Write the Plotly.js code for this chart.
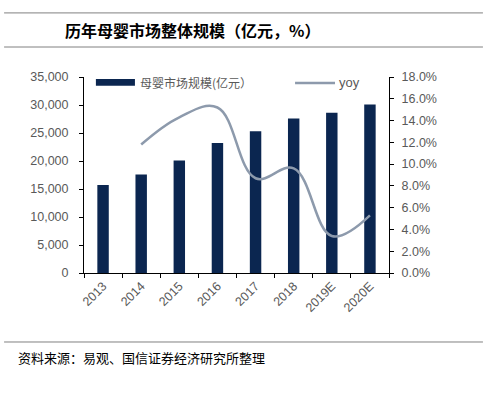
<!DOCTYPE html>
<html>
<head>
<meta charset="utf-8">
<script src="https://cdn.plot.ly/plotly-3.0.1.min.js"></script>
<style>html,body{margin:0;padding:0;background:#fff;}#chart{width:500px;height:394px;}</style>
</head>
<body>
<div id="chart"></div>
<script>
const years = ['2013','2014','2015','2016','2017','2018','2019E','2020E'];
const marketSize = [15700, 17600, 20100, 23200, 25300, 27600, 28600, 30100];
const yoyYears = ['2014','2015','2016','2017','2018','2019E','2020E'];
const yoyValues = [11.8, 14.3, 15.2, 8.7, 9.6, 3.4, 5.3];
const barName = '母婴市场规模(亿元）';
const lineName = 'yoy';
const titleText = '历年母婴市场整体规模（亿元，%）';
const sourceText = '资料来源：易观、国信证券经济研究所整理';

const navy = '#0B2650';
const lineGray = '#8D9AAC';
const tickGray = '#595959';
const cjk = '"Noto Sans CJK SC", sans-serif';
const arial = 'Arial, "Liberation Sans", sans-serif';

const traces = [
  {type:'bar', x: years, y: marketSize, name: barName, marker:{color: navy}, width: 0.3, showlegend:false, yaxis:'y'},
  {type:'scatter', mode:'lines', x: yoyYears, y: yoyValues, name: lineName, line:{color: lineGray, width: 2.5, shape:'spline', smoothing:1.1}, showlegend:false, yaxis:'y2'}
];

const layout = {
  width: 500, height: 394,
  margin: {l: 84, r: 111, t: 77, b: 121},
  paper_bgcolor: '#fff', plot_bgcolor: '#fff',
  font: {family: arial, size: 12, color: tickGray},
  xaxis: {type:'category', tickson:'boundaries', ticks:'outside', ticklen:4, tickcolor:'#000', showline:true, linecolor:'#000', linewidth:1, tickangle:-45, showgrid:false, tickfont:{family: arial, size:12.5, color: tickGray}, range:[-0.5, 7.5]},
  yaxis: {range:[0, 35000], dtick:5000, tickformat:',', ticks:'outside', ticklen:4, tickcolor:'#000', showline:true, linecolor:'#000', linewidth:1, showgrid:false, zeroline:false, ticklabelstandoff:8, tickfont:{family: arial, size:12.5, color: tickGray}},
  yaxis2: {overlaying:'y', side:'right', range:[0, 18], dtick:2, tickformat:'.1f', ticksuffix:'%', ticks:'outside', ticklen:4, tickcolor:'#000', showline:true, linecolor:'#000', linewidth:1, showgrid:false, zeroline:false, ticklabelstandoff:5, tickfont:{family: arial, size:12.5, color: tickGray}},
  shapes: [
    {type:'line', xref:'paper', yref:'paper', x0:-0.262, x1:1.308, y0:1.327, y1:1.327, line:{color:'#808080', width:1}},
    {type:'line', xref:'paper', yref:'paper', x0:-0.262, x1:1.308, y0:1.153, y1:1.153, line:{color:'#808080', width:1}},
    {type:'line', xref:'paper', yref:'paper', x0:-0.262, x1:1.308, y0:-0.352, y1:-0.352, line:{color:'#808080', width:1}},
    {type:'rect', xref:'paper', yref:'paper', x0:0.039, x1:0.167, y0:0.955, y1:0.99, fillcolor: navy, line:{width:0}},
    {type:'line', xref:'paper', yref:'paper', x0:0.692, x1:0.823, y0:0.969, y1:0.969, line:{color: lineGray, width:2.5}}
  ],
  annotations: [
    {xref:'paper', yref:'paper', x:-0.069, y:1.24, xanchor:'left', yanchor:'middle', text:'<b>'+titleText+'</b>', showarrow:false, font:{family: cjk, size:16, color:'#000'}},
    {xref:'paper', yref:'paper', x:-0.223, y:-0.432, xanchor:'left', yanchor:'middle', text: sourceText, showarrow:false, font:{family: cjk, size:13, color:'#000'}},
    {xref:'paper', yref:'paper', x:0.177, y:0.972, xanchor:'left', yanchor:'middle', text: barName, showarrow:false, font:{family: cjk, size:12, color: tickGray}},
    {xref:'paper', yref:'paper', x:0.830, y:0.972, xanchor:'left', yanchor:'middle', text: lineName, showarrow:false, font:{family: arial, size:13, color: tickGray}}
  ],
  bargap: 0.7
};

Plotly.newPlot('chart', traces, layout, {staticPlot:true, displayModeBar:false});
</script>
</body>
</html>
